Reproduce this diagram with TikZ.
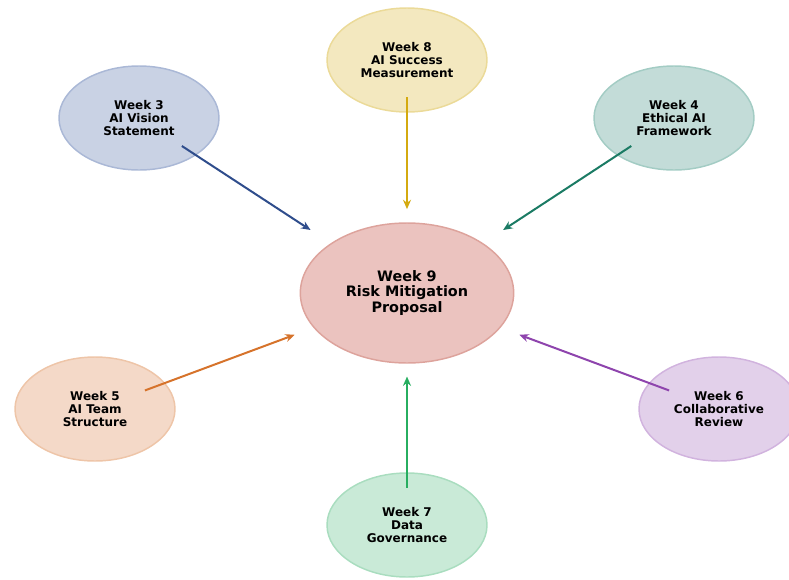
\documentclass[tikz,border=0pt]{standalone}
\usepackage{fontspec}
\setmainfont{DejaVu Sans}
\usetikzlibrary{arrows.meta,shapes.geometric,calc}

\definecolor{hubfill}{HTML}{EBC3BF}
\definecolor{hubline}{HTML}{DDA39C}
\definecolor{blufill}{HTML}{C9D2E4}
\definecolor{bluline}{HTML}{AAB8D6}
\definecolor{bluarr}{HTML}{2F4D8C}
\definecolor{ylwfill}{HTML}{F3E8BF}
\definecolor{ylwline}{HTML}{EBDA98}
\definecolor{ylwarr}{HTML}{D4AA10}
\definecolor{tealfill}{HTML}{C3DCD8}
\definecolor{tealline}{HTML}{A3CCC4}
\definecolor{tealarr}{HTML}{1B7B64}
\definecolor{orgfill}{HTML}{F4D9C8}
\definecolor{orgline}{HTML}{EEC5A8}
\definecolor{orgarr}{HTML}{D6732B}
\definecolor{plmfill}{HTML}{E2D0EA}
\definecolor{plmline}{HTML}{D1B3DE}
\definecolor{plmarr}{HTML}{8E44AD}
\definecolor{grnfill}{HTML}{C9EAD7}
\definecolor{grnline}{HTML}{A9DDBF}
\definecolor{grnarr}{HTML}{27AE60}

\begin{document}
\begin{tikzpicture}[
  x=0.75pt, y=-0.75pt,
  hub/.style={ellipse, draw=hubline, fill=hubfill, line width=1.1pt, align=center,
    minimum width=160pt, minimum height=105pt, inner sep=0pt,
    font=\fontsize{10.8}{11.3}\selectfont\bfseries},
  bubble/.style={ellipse, line width=1.1pt, align=center,
    minimum width=120pt, minimum height=78pt, inner sep=0pt,
    font=\fontsize{9}{10.1}\selectfont\bfseries},
  arr/.style={-{Stealth[length=7pt,width=6pt]}, line width=1.5pt}
]
\useasboundingbox (0,0) rectangle (789,579);

\node[hub] (w9) at (407,293) {Week 9\\Risk Mitigation\\Proposal};

\node[bubble, draw=ylwline, fill=ylwfill] (w8) at (407,60) {Week 8\\AI Success\\Measurement};
\node[bubble, draw=bluline, fill=blufill] (w3) at (139,118) {Week 3\\AI Vision\\Statement};
\node[bubble, draw=tealline, fill=tealfill] (w4) at (674,118) {Week 4\\Ethical AI\\Framework};
\node[bubble, draw=orgline, fill=orgfill] (w5) at (95,409) {Week 5\\AI Team\\Structure};
\node[bubble, draw=plmline, fill=plmfill] (w6) at (719,409) {Week 6\\Collaborative\\Review};
\node[bubble, draw=grnline, fill=grnfill] (w7) at (407,525) {Week 7\\Data\\Governance};

% spokes into the hub
\draw[arr, draw=ylwarr, fill=ylwarr] ($(w8)!0.16!(w9)$) -- ($(w8)!0.64!(w9)$);
\draw[arr, draw=bluarr, fill=bluarr] ($(w3)!0.16!(w9)$) -- ($(w3)!0.64!(w9)$);
\draw[arr, draw=tealarr, fill=tealarr] ($(w4)!0.16!(w9)$) -- ($(w4)!0.64!(w9)$);
\draw[arr, draw=orgarr, fill=orgarr] ($(w5)!0.16!(w9)$) -- ($(w5)!0.64!(w9)$);
\draw[arr, draw=plmarr, fill=plmarr] ($(w6)!0.16!(w9)$) -- ($(w6)!0.64!(w9)$);
\draw[arr, draw=grnarr, fill=grnarr] ($(w7)!0.16!(w9)$) -- ($(w7)!0.64!(w9)$);

\end{tikzpicture}
\end{document}
